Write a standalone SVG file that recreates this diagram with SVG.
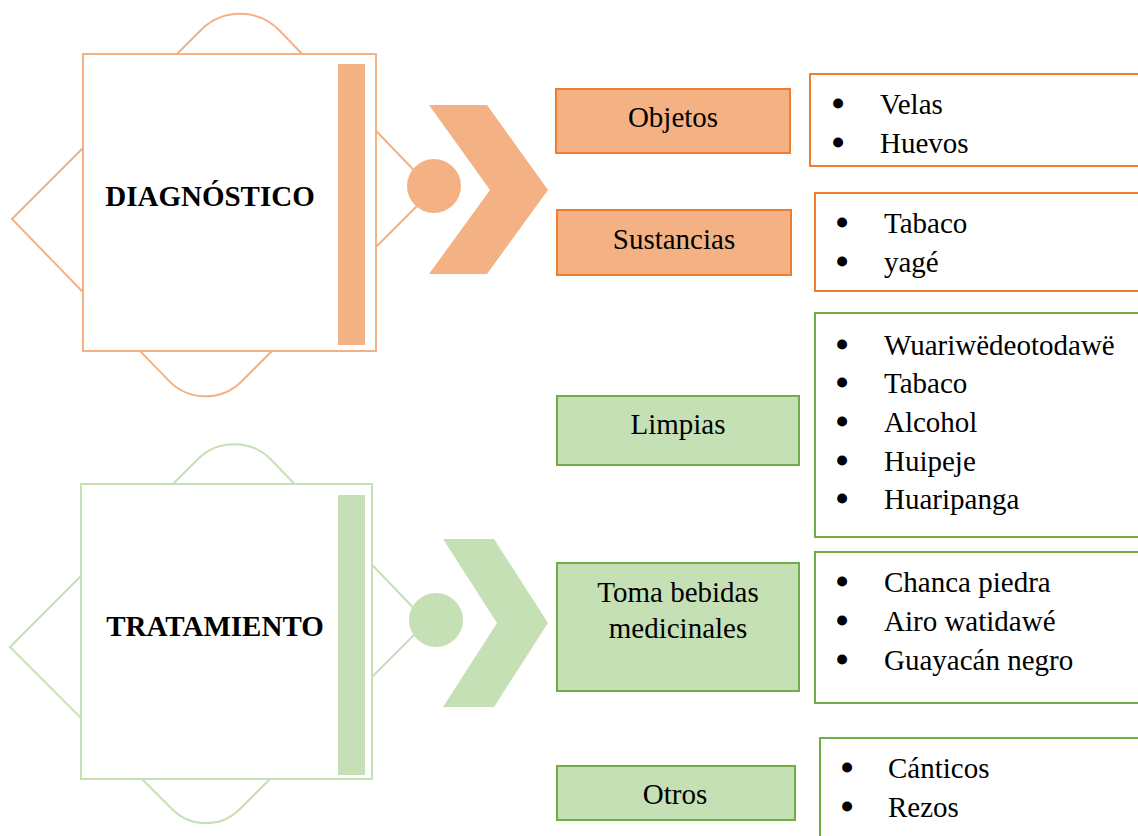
<svg xmlns="http://www.w3.org/2000/svg" width="1138" height="836" viewBox="0 0 1138 836">
  <style>
    text { font-family: "Liberation Serif", Tinos, "Times New Roman", serif; font-size: 29px; fill: #000; }
    .title { font-weight: bold; text-anchor: middle; }
    .mid { text-anchor: middle; }
    .bul { text-anchor: middle; stroke: #000; stroke-width: 3; stroke-linejoin: round; }
    .o-frame { fill: none; stroke: #F4B183; stroke-width: 2; }
    .o-card { fill: #fff; stroke: #F4B183; stroke-width: 2; }
    .o-fill { fill: #F4B183; }
    .o-box { fill: #F4B183; stroke: #ED7D31; stroke-width: 2; }
    .o-list { fill: #fff; stroke: #ED7D31; stroke-width: 2; }
    .g-frame { fill: none; stroke: #C5E0B4; stroke-width: 2; }
    .g-card { fill: #fff; stroke: #C5E0B4; stroke-width: 2; }
    .g-fill { fill: #C5E0B4; }
    .g-box { fill: #C5E0B4; stroke: #70AD47; stroke-width: 2; }
    .g-list { fill: #fff; stroke: #70AD47; stroke-width: 2; }
  </style>
  <rect width="1138" height="836" fill="#fff"/>

  <!-- Diagnóstico block -->
  <g id="diagnostico">
    <path class="o-frame" d="M12,219 L202,29 A55,55 0 0 1 279,30 L433,190 L241,382 A51,51 0 0 1 169.5,381.4 Z"/>
    <rect class="o-card" x="83" y="54" width="293" height="297"/>
    <rect class="o-fill" x="338" y="64" width="27" height="281"/>
    <text class="title" x="210" y="206">DIAGNÓSTICO</text>
  </g>

  <!-- Tratamiento block -->
  <g id="tratamiento">
    <path class="g-frame" d="M10,647 L198,459 A52,52 0 0 1 271,459.5 L427,622 L240,809 A48,48 0 0 1 172,809 Z"/>
    <rect class="g-card" x="81" y="484" width="291" height="295"/>
    <rect class="g-fill" x="338" y="495" width="27" height="280"/>
    <text class="title" x="215" y="636">TRATAMIENTO</text>
  </g>

  <!-- Connectors: dot and chevron arrows -->
  <g id="connectors">
    <circle class="o-fill" cx="434" cy="186" r="27"/>
    <polygon class="o-fill" points="429,105 487,105 548,190 487,274 429,274 490,190"/>
    <circle class="g-fill" cx="436" cy="620" r="27"/>
    <polygon class="g-fill" points="443,539 494,539 548,623 494,707 443,707 497,623"/>
  </g>

  <!-- Objetos -->
  <g id="objetos">
    <rect class="o-box" x="556" y="89" width="234" height="64"/>
    <text class="mid" x="673" y="127">Objetos</text>
  </g>
  <g id="objetos-list">
    <rect class="o-list" x="810" y="74" width="340" height="92"/>
    <text class="bul" x="838" y="114">•</text>
    <text x="880" y="114">Velas</text>
    <text class="bul" x="838" y="153">•</text>
    <text x="880" y="153">Huevos</text>
  </g>

  <!-- Sustancias -->
  <g id="sustancias">
    <rect class="o-box" x="557" y="210" width="234" height="65"/>
    <text class="mid" x="674" y="249">Sustancias</text>
  </g>
  <g id="sustancias-list">
    <rect class="o-list" x="815" y="193" width="335" height="98"/>
    <text class="bul" x="842" y="233">•</text>
    <text x="884" y="233">Tabaco</text>
    <text class="bul" x="842" y="272">•</text>
    <text x="884" y="272">yagé</text>
  </g>

  <!-- Limpias -->
  <g id="limpias">
    <rect class="g-box" x="557" y="396" width="242" height="69"/>
    <text class="mid" x="678" y="434">Limpias</text>
  </g>
  <g id="limpias-list">
    <rect class="g-list" x="815" y="313" width="335" height="224"/>
    <text class="bul" x="842" y="355">•</text>
    <text x="884" y="355">Wuariwëdeotodawë</text>
    <text class="bul" x="842" y="393">•</text>
    <text x="884" y="393">Tabaco</text>
    <text class="bul" x="842" y="432">•</text>
    <text x="884" y="432">Alcohol</text>
    <text class="bul" x="842" y="471">•</text>
    <text x="884" y="471">Huipeje</text>
    <text class="bul" x="842" y="509">•</text>
    <text x="884" y="509">Huaripanga</text>
  </g>

  <!-- Toma bebidas medicinales -->
  <g id="bebidas">
    <rect class="g-box" x="557" y="563" width="242" height="128"/>
    <text class="mid" x="678" y="602">Toma bebidas</text>
    <text class="mid" x="678" y="638">medicinales</text>
  </g>
  <g id="bebidas-list">
    <rect class="g-list" x="815" y="552" width="335" height="151"/>
    <text class="bul" x="842" y="592">•</text>
    <text x="884" y="592">Chanca piedra</text>
    <text class="bul" x="842" y="631">•</text>
    <text x="884" y="631">Airo watidawé</text>
    <text class="bul" x="842" y="670">•</text>
    <text x="884" y="670">Guayacán negro</text>
  </g>

  <!-- Otros -->
  <g id="otros">
    <rect class="g-box" x="557" y="766" width="238" height="54"/>
    <text class="mid" x="675" y="804">Otros</text>
  </g>
  <g id="otros-list">
    <rect class="g-list" x="820" y="738" width="330" height="110"/>
    <text class="bul" x="847" y="778">•</text>
    <text x="888" y="778">Cánticos</text>
    <text class="bul" x="847" y="817">•</text>
    <text x="888" y="817">Rezos</text>
  </g>
</svg>
